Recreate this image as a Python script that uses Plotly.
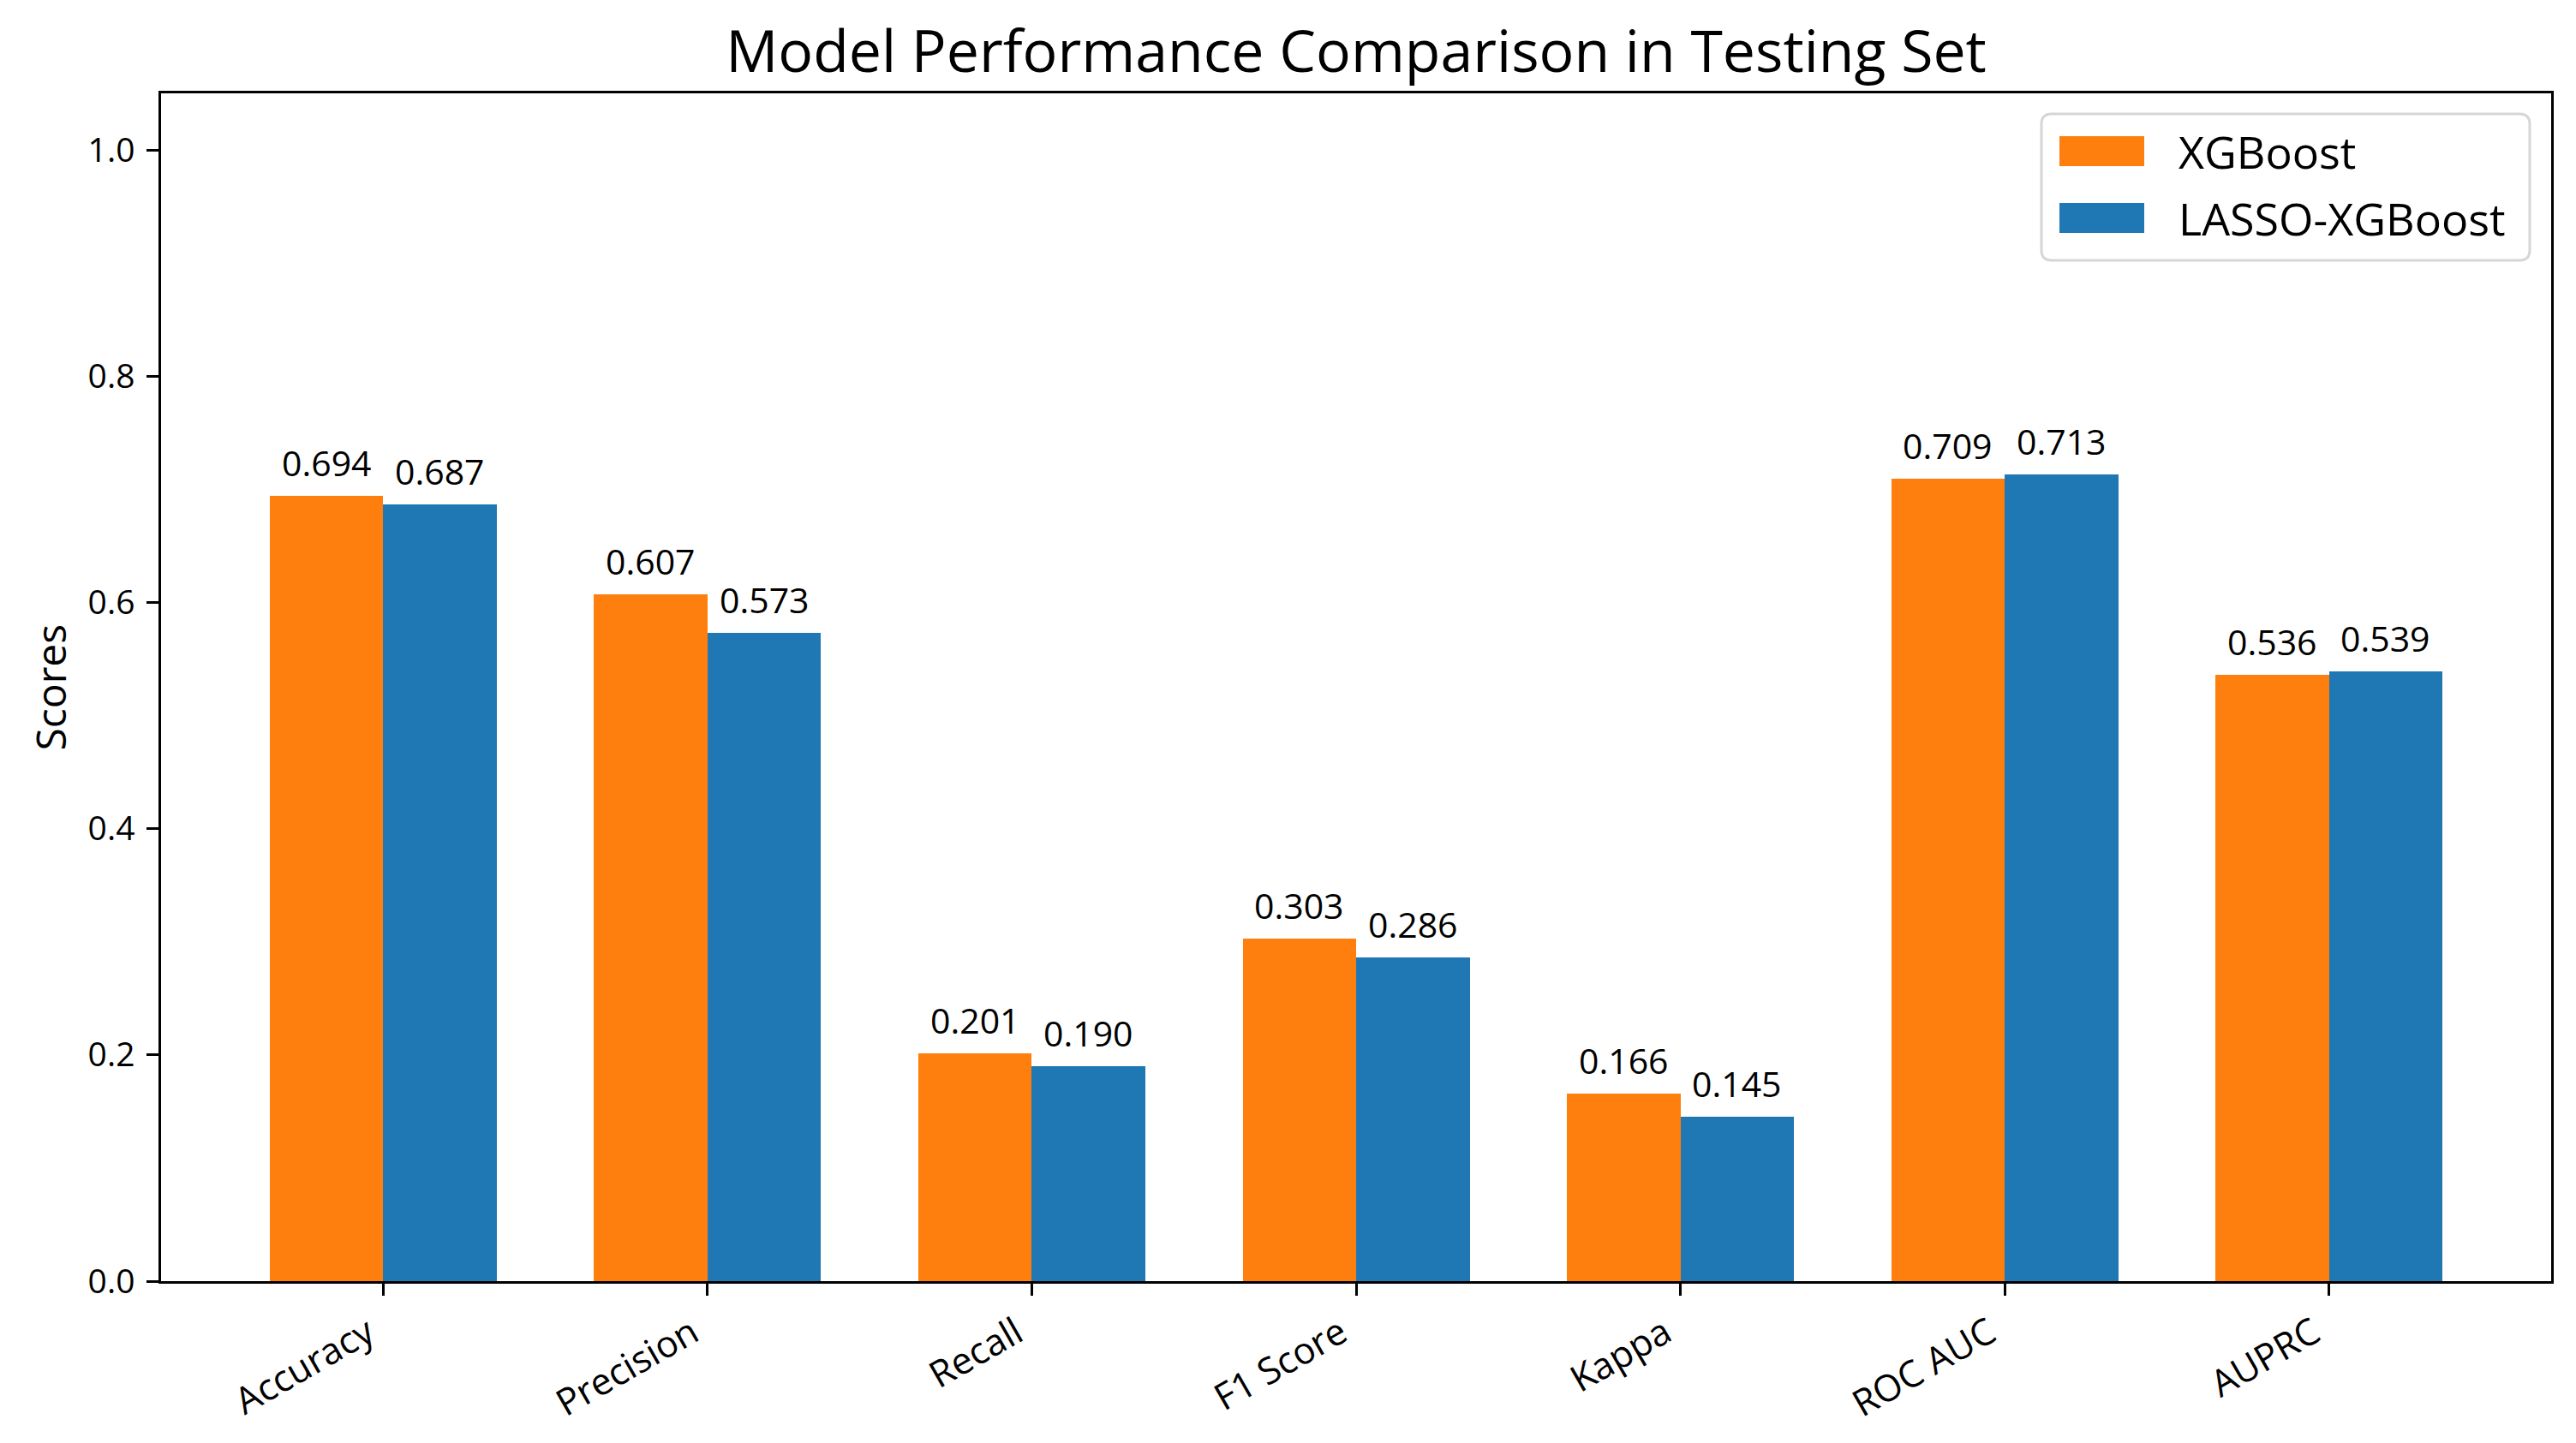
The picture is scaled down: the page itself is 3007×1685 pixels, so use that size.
import plotly.graph_objects as go

categories = ["Accuracy", "Precision", "Recall", "F1 Score", "Kappa", "ROC AUC", "AUPRC"]
xgb_scores = [0.694, 0.607, 0.201, 0.303, 0.166, 0.709, 0.536]
lasso_scores = [0.687, 0.573, 0.190, 0.286, 0.145, 0.713, 0.539]
series_names = ["XGBoost", "LASSO-XGBoost"]
series_colors = ["#ff7f0e", "#1f77b4"]
y_ticks = [0.0, 0.2, 0.4, 0.6, 0.8, 1.0]

OFF = 8  # browser default body margin
W, H = 3007 - OFF, 1685 - OFF
PL, PR, PT, PB = 188, 2978, 109, 1496  # plot area in page pixels
FONT = "Open Sans"
bar_w = 0.35
idx = list(range(len(categories)))
x_xgb = [i - bar_w / 2 for i in idx]
x_lasso = [i + bar_w / 2 for i in idx]


def px2paper_x(px):
    return (px - PL) / (PR - PL)


def px2paper_y(py):
    return (PB - py) / (PB - PT)


fig = go.Figure()
fig.add_trace(go.Bar(x=x_xgb, y=xgb_scores, width=bar_w, name=series_names[0],
                     showlegend=False, marker=dict(color=series_colors[0], line=dict(width=0))))
fig.add_trace(go.Bar(x=x_lasso, y=lasso_scores, width=bar_w, name=series_names[1],
                     showlegend=False, marker=dict(color=series_colors[1], line=dict(width=0))))

annotations = []
for xs, vals in ((x_xgb, xgb_scores), (x_lasso, lasso_scores)):
    for xv, v in zip(xs, vals):
        annotations.append(dict(x=xv, y=v, xref="x", yref="y", text=f"{v:.3f}",
                                showarrow=False, yanchor="bottom", yshift=9,
                                font=dict(family=FONT, size=41, color="black")))

# y-axis label
annotations.append(dict(x=px2paper_x(58), y=0.5, xref="paper", yref="paper", text="Scores",
                        textangle=-90, showarrow=False, xanchor="center", yanchor="middle",
                        font=dict(family=FONT, size=48, color="black")))

# manual legend (matplotlib-style frame with large patches)
shapes = []
bx0, bx1, by0, by1 = px2paper_x(2383), px2paper_x(2953), px2paper_y(304), px2paper_y(133)
rx, ry = 12 / (PR - PL), 12 / (PB - PT)
path = (f"M {bx0+rx},{by0} L {bx1-rx},{by0} Q {bx1},{by0} {bx1},{by0+ry} "
        f"L {bx1},{by1-ry} Q {bx1},{by1} {bx1-rx},{by1} L {bx0+rx},{by1} "
        f"Q {bx0},{by1} {bx0},{by1-ry} L {bx0},{by0+ry} Q {bx0},{by0} {bx0+rx},{by0} Z")
shapes.append(dict(type="path", path=path, xref="paper", yref="paper",
                   fillcolor="rgba(255,255,255,0.8)", line=dict(color="#d6d6d6", width=3)))
legend_rows_y = [(159, 194), (237, 272)]
for name, color, (y0, y1) in zip(series_names, series_colors, legend_rows_y):
    shapes.append(dict(type="rect", xref="paper", yref="paper",
                       x0=px2paper_x(2404), x1=px2paper_x(2503),
                       y0=px2paper_y(y1), y1=px2paper_y(y0),
                       fillcolor=color, line=dict(width=0)))
    annotations.append(dict(x=px2paper_x(2541), y=px2paper_y((y0 + y1) / 2),
                            xref="paper", yref="paper", text=name, showarrow=False,
                            xanchor="left", yanchor="middle",
                            font=dict(family=FONT, size=52, color="black")))

fig.update_layout(
    width=W, height=H,
    margin=dict(l=PL - OFF, r=3007 - PR, t=PT - OFF, b=1685 - PB),
    paper_bgcolor="white", plot_bgcolor="white",
    bargap=0, barmode="overlay",
    font=dict(family=FONT, color="black"),
    title=dict(text="Model Performance Comparison in Testing Set",
               x=((PL + PR) / 2 - OFF) / W, xanchor="center",
               y=1 - (60 - OFF) / H, yanchor="middle", yref="container",
               font=dict(family=FONT, size=68, color="black")),
    showlegend=False,
    annotations=annotations,
    shapes=shapes,
)
fig.update_xaxes(range=[-0.685, 6.685], tickmode="array", tickvals=idx, ticktext=categories,
                 tickangle=-30, ticks="outside", ticklen=14, tickwidth=2.5, tickcolor="black",
                 ticklabelshift=-18, ticklabelstandoff=2,
                 showline=True, linewidth=2.5, linecolor="black", mirror=True,
                 showgrid=False, zeroline=False,
                 tickfont=dict(family=FONT, size=43, color="black"))
fig.update_yaxes(range=[0, 1.05], tickmode="array", tickvals=y_ticks,
                 ticktext=[f"{t:.1f}" for t in y_ticks],
                 ticks="outside", ticklen=14, tickwidth=2.5, tickcolor="black",
                 ticklabelstandoff=6,
                 showline=True, linewidth=2.5, linecolor="black", mirror=True,
                 showgrid=False, zeroline=False,
                 tickfont=dict(family=FONT, size=39, color="black"))

fig.write_html("out.html")
